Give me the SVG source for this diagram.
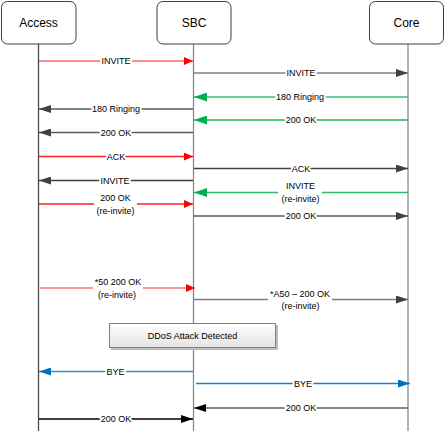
<svg xmlns="http://www.w3.org/2000/svg" width="445" height="433" viewBox="0 0 445 433">
<style>
.box{fill:#fff;stroke:#3f3f3f;stroke-width:1}
.hdr{font-family:"Liberation Sans",Arial,sans-serif;font-size:12px;fill:#000;text-anchor:middle}
.lbl{font-family:"Liberation Sans",Arial,sans-serif;font-size:9px;fill:#000;text-anchor:middle}
.halo{stroke:#fff;stroke-width:4;paint-order:stroke;stroke-linejoin:round}
.ll{stroke-width:1.3;fill:none}
.m{stroke-width:1.3;fill:none}
</style>
<defs>
<marker id="hRed" markerUnits="userSpaceOnUse" markerWidth="9" markerHeight="8" refX="9" refY="4" orient="auto"><path d="M0,0 L9,4 L0,8 z" fill="#ff0000"/></marker>
<marker id="hGray" markerUnits="userSpaceOnUse" markerWidth="12" markerHeight="8" refX="12" refY="4" orient="auto"><path d="M0,0 L12,4 L0,8 z" fill="#404040"/></marker>
<marker id="hGreen" markerUnits="userSpaceOnUse" markerWidth="13" markerHeight="9" refX="13" refY="4.5" orient="auto"><path d="M0,0 L13,4.5 L0,9 z" fill="#00b050"/></marker>
<marker id="hBlue" markerUnits="userSpaceOnUse" markerWidth="12" markerHeight="8" refX="12" refY="4" orient="auto"><path d="M0,0 L12,4 L0,8 z" fill="#0070c0"/></marker>
<marker id="hBlack" markerUnits="userSpaceOnUse" markerWidth="12" markerHeight="8" refX="12" refY="4" orient="auto"><path d="M0,0 L12,4 L0,8 z" fill="#000"/></marker>
<linearGradient id="gDdos" x1="0" y1="0" x2="0" y2="1"><stop offset="0" stop-color="#ffffff"/><stop offset="1" stop-color="#e4e4e4"/></linearGradient>
</defs>

<g id="lifelines">
<line class="ll" x1="38.5" y1="44" x2="38.5" y2="431" stroke="#4a4a4a"/>
<line class="ll" x1="193.5" y1="44" x2="193.5" y2="431" stroke="#8a8a8a"/>
<line class="ll" x1="408" y1="44" x2="408" y2="431" stroke="#8a8a8a"/>
</g>

<g id="node-access"><rect class="box" x="1.5" y="1.5" width="74.5" height="42.5" rx="6"/><text class="hdr" x="38.5" y="27">Access</text></g>
<g id="node-sbc"><rect class="box" x="157" y="1.5" width="74" height="42.5" rx="6"/><text class="hdr" x="194" y="27">SBC</text></g>
<g id="node-core"><rect class="box" x="369.5" y="1.5" width="74" height="42.5" rx="6"/><text class="hdr" x="406.5" y="27">Core</text></g>

<g id="connectors">
<line class="m" x1="39" y1="61" x2="193" y2="61" stroke="#ff6a6a" marker-end="url(#hRed)"/>
<line class="m" x1="194" y1="73" x2="408" y2="73" stroke="#808080" marker-end="url(#hGray)"/>
<line class="m" x1="408" y1="97" x2="194" y2="97" stroke="#3cbf74" marker-end="url(#hGreen)"/>
<line class="m" x1="193" y1="109" x2="39" y2="109" stroke="#595959" marker-end="url(#hGray)"/>
<line class="m" x1="408" y1="120" x2="194" y2="120" stroke="#1db35f" marker-end="url(#hGreen)"/>
<line class="m" x1="193" y1="132.5" x2="39" y2="132.5" stroke="#595959" marker-end="url(#hGray)"/>
<line class="m" x1="39" y1="156.5" x2="193" y2="156.5" stroke="#ff2020" marker-end="url(#hRed)"/>
<line class="m" x1="194" y1="168.5" x2="408" y2="168.5" stroke="#404040" marker-end="url(#hGray)"/>
<line class="m" x1="193" y1="180.5" x2="39" y2="180.5" stroke="#404040" marker-end="url(#hGray)"/>
<line class="m" x1="408" y1="192.5" x2="194" y2="192.5" stroke="#2dbb6a" marker-end="url(#hGreen)"/>
<line class="m" x1="39" y1="204" x2="193" y2="204" stroke="#ff2020" marker-end="url(#hRed)"/>
<line class="m" x1="194" y1="216" x2="408" y2="216" stroke="#595959" marker-end="url(#hGray)"/>
<line class="m" x1="40" y1="288" x2="195" y2="288" stroke="#ff7070" marker-end="url(#hRed)"/>
<line class="m" x1="194" y1="299.5" x2="408" y2="299.5" stroke="#808080" marker-end="url(#hGray)"/>
<line class="m" x1="193" y1="371.5" x2="39" y2="371.5" stroke="#3a8fd0" marker-end="url(#hBlue)"/>
<line class="m" x1="196" y1="383.5" x2="410" y2="383.5" stroke="#1f7fc8" marker-end="url(#hBlue)"/>
<line class="m" x1="408" y1="408" x2="194" y2="408" stroke="#606060" marker-end="url(#hBlack)"/>
<line class="m" x1="39" y1="419" x2="193" y2="419" stroke="#000" marker-end="url(#hBlack)"/>
</g>

<g id="labels">
<text class="lbl halo" x="116" y="64">INVITE</text>
<text class="lbl halo" x="301" y="76">INVITE</text>
<text class="lbl halo" x="300" y="100">180 Ringing</text>
<text class="lbl halo" x="116" y="112">180 Ringing</text>
<text class="lbl halo" x="301" y="123">200 OK</text>
<text class="lbl halo" x="116" y="135.5">200 OK</text>
<text class="lbl halo" x="116" y="159.5">ACK</text>
<text class="lbl halo" x="301" y="171.5">ACK</text>
<text class="lbl halo" x="115" y="183.5">INVITE</text>
<rect x="278" y="182" width="44" height="21" fill="#fff"/>
<text class="lbl" x="300.5" y="189">INVITE</text>
<text class="lbl" x="300.5" y="201.5">(re-invite)</text>
<rect x="94" y="193" width="43" height="21" fill="#fff"/>
<text class="lbl" x="115.5" y="200.5">200 OK</text>
<text class="lbl" x="115.5" y="214">(re-invite)</text>
<text class="lbl halo" x="301" y="219">200 OK</text>
<rect x="93" y="279" width="50" height="20" fill="#fff"/>
<text class="lbl" x="118" y="284.5">*50 200 OK</text>
<text class="lbl" x="117" y="298">(re-invite)</text>
<rect x="268" y="290" width="64" height="20" fill="#fff"/>
<text class="lbl" x="300" y="297">*A50 – 200 OK</text>
<text class="lbl" x="300.5" y="308.5">(re-invite)</text>
<text class="lbl halo" x="115.5" y="374.5">BYE</text>
<text class="lbl halo" x="303" y="386.5">BYE</text>
<text class="lbl halo" x="301" y="411">200 OK</text>
<text class="lbl halo" x="116" y="422">200 OK</text>
</g>

<g id="node-ddos">
<rect x="111" y="325" width="167" height="25" fill="#bdbdbd"/>
<rect x="109.5" y="323.5" width="166" height="24" fill="url(#gDdos)" stroke="#7f7f7f" stroke-width="1"/>
<text class="lbl" x="192.5" y="339">DDoS Attack Detected</text>
</g>
</svg>
